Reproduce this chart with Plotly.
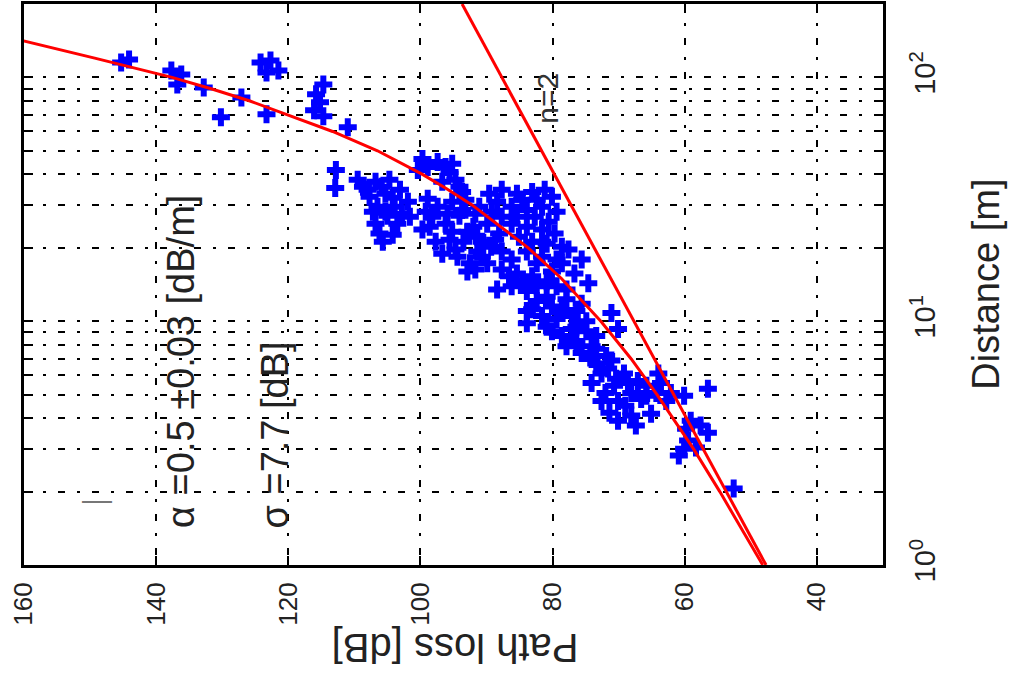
import math
import plotly.graph_objects as go

# ---- measured points (path loss [dB], distance [m]) ----
path_loss_db = [
    145.3, 144.1, 137.7, 136.8, 136.2, 132.8, 130.2, 127.1, 124.2, 122.7, 123.3, 121.5, 123.3,
    114.7, 115.8, 115.2, 116.1, 114.7, 111.0, 112.8, 112.9,
    108.7, 106.8, 104.7, 107.7, 105.3, 103.1, 106.5, 103.9, 101.9, 105.0, 103.5, 106.2, 104.2, 101.6,
    109.5, 108.0, 105.9, 104.2, 107.2, 105.3, 102.8, 106.8, 105.7,
    99.7, 100.4, 97.4, 95.2, 95.6, 96.7, 94.1, 98.9, 96.2, 94.7,
    99.2, 97.4, 95.2, 93.2, 91.1, 89.2, 98.6, 96.2, 94.1, 92.0, 89.9, 88.1, 97.7, 95.6, 93.5, 91.4,
    89.3, 96.7, 94.4, 92.5, 90.7, 99.7, 92.9, 91.7,
    98.2, 95.9, 93.7, 91.7, 95.2, 92.9, 90.7, 88.7, 94.7, 91.4, 89.9, 87.7, 98.9, 93.7,
    89.6, 87.7, 85.4, 83.1, 81.2, 86.2, 83.9, 81.6, 79.4, 86.2, 83.9, 81.6, 83.1, 80.9, 78.6, 81.6, 79.4,
    88.4, 84.6, 82.4, 80.1, 87.7, 85.4, 82.7, 80.6, 85.1, 81.6, 79.7, 83.9, 86.2, 82.4, 80.1, 78.6,
    84.6, 82.4, 79.4, 77.9, 86.6, 80.9, 78.6, 76.4, 83.1, 80.9, 76.4, 73.4,
    87.7, 85.4, 83.1, 80.9, 86.2, 83.9, 88.4, 82.4, 80.1, 77.9, 75.6, 81.6, 79.4, 77.1, 74.9, 83.9,
    77.6, 75.6, 76.7, 74.6, 83.9,
    78.6, 76.4, 74.1, 77.1, 74.9, 80.1, 73.4, 74.1, 71.9, 71.6, 69.2, 67.1, 70.7, 68.1, 70.1, 66.6,
    77.9, 75.6, 73.4, 71.1, 72.6, 70.4, 68.6, 65.8, 72.0, 69.0, 71.4, 68.1, 65.8, 64.3, 62.8,
    71.1, 70.1, 74.1, 72.6, 65.1, 70.1, 67.4, 64.0, 63.6, 62.1, 60.1, 56.5, 59.8, 57.6, 56.5, 59.5,
    58.3, 60.9, 59.1, 60.1, 52.6,
]
distance_m = [
    115.1, 118.4, 106.8, 93.6, 102.8, 91.0, 68.7, 82.8, 115.1, 117.3, 104.8, 106.8, 70.6,
    93.6, 85.3, 79.0, 73.3, 69.3, 62.5, 41.7, 35.2,
    35.6, 37.3, 38.0, 32.4, 33.3, 34.6, 29.5, 29.5, 30.9, 27.1, 25.1, 22.9, 22.6, 26.8,
    38.0, 34.6, 35.6, 32.1, 28.1, 28.1, 27.6, 25.1, 21.2,
    46.3, 41.7, 45.0, 44.2, 40.9, 37.3, 35.6, 42.9, 42.9, 38.0,
    28.1, 29.5, 30.9, 31.5, 29.5, 28.1, 24.4, 25.1, 27.1, 24.4, 25.1, 22.9, 21.2, 21.6, 21.2, 22.2,
    20.2, 18.9, 18.4, 17.3, 18.4, 23.8, 16.0, 16.3,
    26.8, 27.6, 28.6, 27.6, 23.3, 23.3, 21.2, 21.6, 19.7, 19.3, 17.3, 19.3, 31.8, 33.9,
    33.3, 34.6, 33.3, 33.9, 34.6, 29.5, 28.6, 29.5, 28.1, 25.1, 24.4, 23.8, 21.2, 20.8, 20.2, 18.4, 17.9,
    30.9, 31.5, 31.5, 32.4, 26.8, 26.8, 26.8, 25.6, 22.2, 21.2, 22.9, 19.3, 17.9, 17.3, 16.0, 17.3,
    14.6, 13.9, 13.9, 13.5, 15.3, 12.6, 11.0, 11.0, 11.2, 9.5, 9.5, 8.7,
    16.3, 15.7, 15.3, 14.6, 13.9, 13.3, 13.5, 12.1, 11.5, 12.3, 11.8, 10.5, 10.2, 10.5, 10.0, 9.8,
    19.7, 17.9, 15.7, 14.3, 11.0,
    8.7, 8.3, 7.9, 9.3, 9.1, 9.1, 7.7, 7.0, 7.2, 6.4, 6.1, 5.69, 5.43, 5.08, 4.71, 4.80,
    7.9, 7.4, 6.7, 6.9, 6.1, 5.8, 5.58, 5.43, 5.08, 4.50, 4.21, 4.10, 4.94, 5.08, 4.71,
    10.8, 9.3, 5.58, 4.71, 4.17, 3.91, 3.73, 6.1, 5.58, 5.08, 4.94, 5.28, 3.62, 3.73, 3.49, 3.24,
    3.03, 2.81, 3.91, 3.0, 2.06,
]

# ---- fitted model curve (alpha model) ----
fit_distance_m = [1, 2, 3, 5, 7, 10, 15, 20, 30, 35, 40, 45, 50, 60, 70, 80, 90, 100, 120, 142]
fit_path_loss_db = [48.2, 54.7, 58.7, 64.2, 68.1, 72.7, 78.7, 83.7, 92.2, 96.1, 99.7, 103.2,
                    106.5, 113.3, 120.0, 125.8, 131.8, 137.6, 149.3, 160.5]

# ---- free-space reference line (n=2) ----
n2_distance_m = [1, 200]
n2_path_loss_db = [47.7, 93.7]

# ---- axis ticks ----
pl_ticks = [40, 60, 80, 100, 120, 140, 160]
pl_tick_labels = ["40", "60", "80", "100", "120", "140", "160"]
dist_ticks = [1, 2, 3, 4, 5, 6, 7, 8, 9, 10, 20, 30, 40, 50, 60, 70, 80, 90, 100, 200]
dist_tick_labels = ["10<sup>0</sup>", "", "", "", "", "", "", "", "",
                    "10<sup>1</sup>", "", "", "", "", "", "", "", "",
                    "10<sup>2</sup>", ""]

FONT = "Liberation Sans, Arial, sans-serif"
GRID_DASH = "7px,12px,3px,12px"
TEXT_COLOR = "#222222"

fig = go.Figure()
fig.add_trace(go.Scatter(
    x=path_loss_db, y=distance_m, mode="markers",
    marker=dict(symbol="cross", size=15, color="#0000FF", line=dict(width=0)),
    showlegend=False, hoverinfo="skip"))
fig.add_trace(go.Scatter(
    x=fit_path_loss_db, y=fit_distance_m, mode="lines",
    line=dict(color="#FF0000", width=3), showlegend=False, hoverinfo="skip"))
fig.add_trace(go.Scatter(
    x=n2_path_loss_db, y=n2_distance_m, mode="lines",
    line=dict(color="#FF0000", width=3), showlegend=False, hoverinfo="skip"))

fig.update_layout(
    width=1012, height=675,
    margin=dict(l=24, r=129, t=1, b=110),
    paper_bgcolor="white", plot_bgcolor="white",
    font=dict(family=FONT, color="black"),
    showlegend=False,
)
fig.update_xaxes(
    range=[160, 30], tickvals=pl_ticks, ticktext=pl_tick_labels, tickangle=-90,
    ticks="inside", ticklen=9, tickwidth=2, tickcolor="black",
    showgrid=True, gridcolor="black", gridwidth=2, griddash=GRID_DASH,
    showline=True, linewidth=3, linecolor="black", mirror="ticks",
    zeroline=False, tickfont=dict(size=26, color=TEXT_COLOR), ticklabelstandoff=4,
)
fig.update_yaxes(
    type="log", range=[0, math.log10(200)], side="right",
    tickvals=dist_ticks, ticktext=dist_tick_labels, tickangle=-90,
    ticks="inside", ticklen=9, tickwidth=2, tickcolor="black",
    showgrid=True, gridcolor="black", gridwidth=2, griddash=GRID_DASH,
    showline=True, linewidth=3, linecolor="black", mirror="ticks",
    zeroline=False, tickfont=dict(size=29, color=TEXT_COLOR), ticklabelstandoff=14,
)

ann_font = dict(family=FONT, size=38, color=TEXT_COLOR)
annotations = [
    dict(text="Path loss [dB]", x=0.502, y=-0.147, xref="paper", yref="paper",
         textangle=180, showarrow=False, font=dict(family=FONT, size=40, color=TEXT_COLOR),
         xanchor="center", yanchor="middle"),
    dict(text="Distance [m]", x=1.119, y=0.50, xref="paper", yref="paper",
         textangle=-90, showarrow=False, font=dict(family=FONT, size=38, color=TEXT_COLOR),
         xanchor="center", yanchor="middle"),
    dict(text="α =0.5 ±0.03 [dB/m]", x=0.183, y=0.062, xref="paper", yref="paper",
         textangle=-90, showarrow=False, font=ann_font, xanchor="center", yanchor="bottom"),
    dict(text="σ =7.7 [dB]", x=0.292, y=0.062, xref="paper", yref="paper",
         textangle=-90, showarrow=False, font=ann_font, xanchor="center", yanchor="bottom"),
    dict(text="n=2", x=0.610, y=0.833, xref="paper", yref="paper",
         textangle=-90, showarrow=False, font=dict(family=FONT, size=30, color="#333333"),
         xanchor="center", yanchor="middle"),
    dict(text="—", x=0.085, y=0.117, xref="paper", yref="paper",
         textangle=0, showarrow=False, font=dict(family=FONT, size=30, color="#777777"),
         xanchor="center", yanchor="middle"),
]
fig.update_layout(annotations=annotations)

fig.write_html("out.html")
